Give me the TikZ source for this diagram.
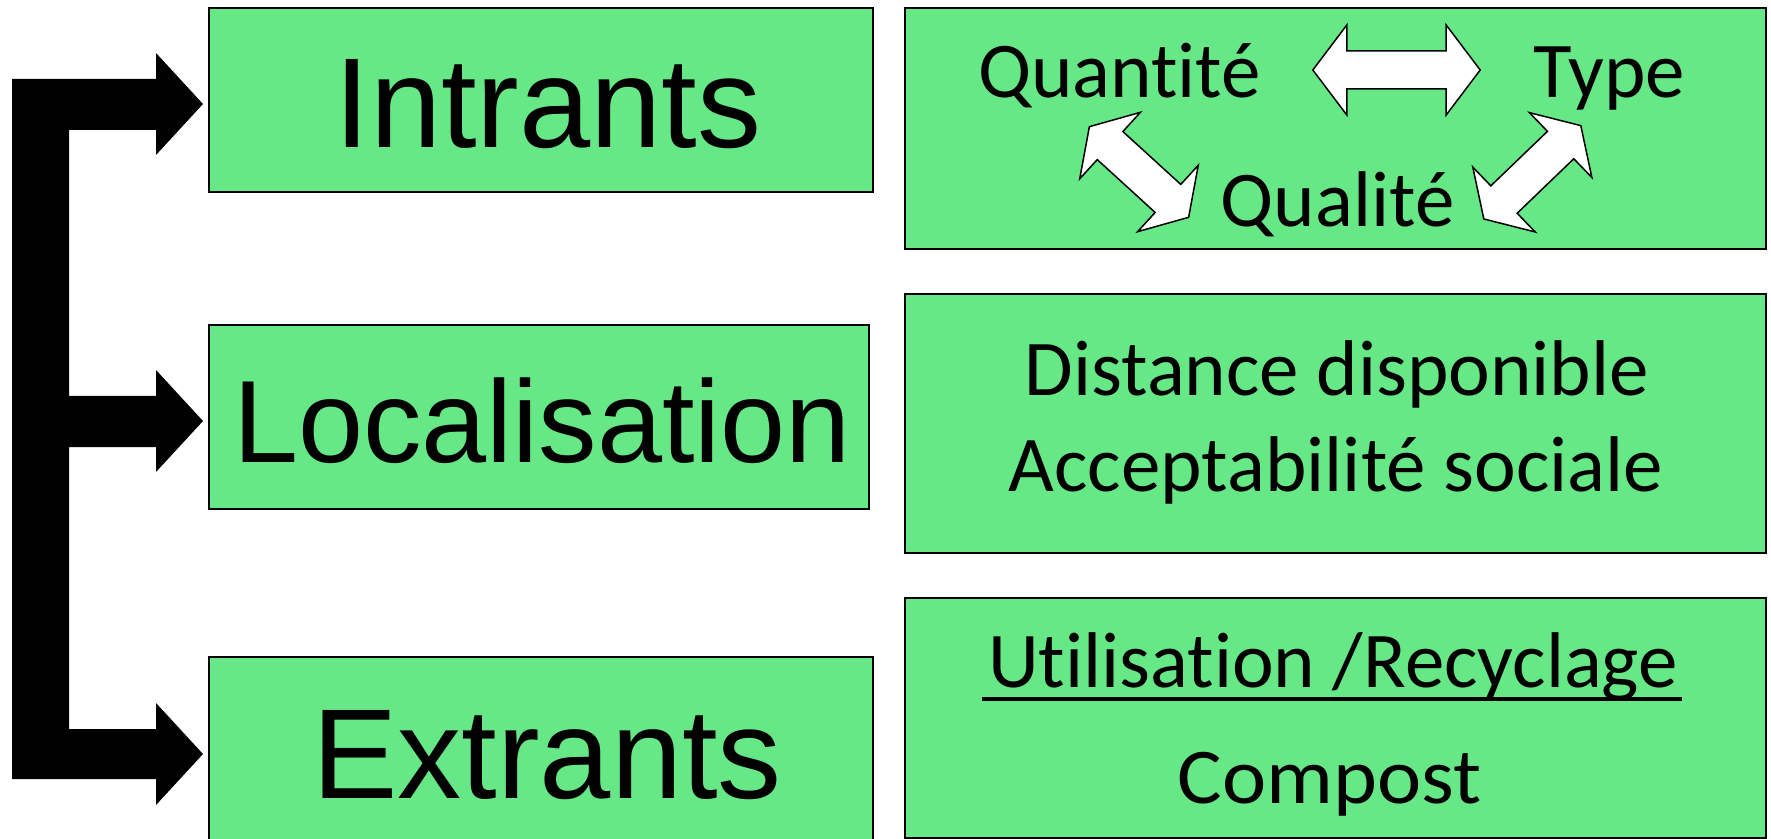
\documentclass[tikz,border=0pt]{standalone}
\usepackage{fontspec}
\newfontfamily\arialf{Liberation Sans}
\newfontfamily\calf[Ligatures=NoCommon]{Carlito}
\definecolor{boxgreen}{RGB}{102,232,134}
\tikzset{
  box/.style={draw=black, line width=1pt, fill=boxgreen, inner sep=0pt},
  lefttxt/.style={font=\arialf\fontsize{64}{72}\selectfont, inner sep=0pt, anchor=base},
  righttxt/.style={font=\calf\fontsize{39.5}{47}\selectfont, inner sep=0pt, anchor=base},
  arr/.style={draw=black, line width=0.75pt, fill=white, line join=miter},
  bracketarrow/.style={fill=black, draw=none},
  pics/dblarrow/.style 2 args={code={
    \draw[arr] (-#1,0) -- (-#1+#2,45) -- (-#1+#2,19) -- (#1-#2,19) -- (#1-#2,45)
      -- (#1,0) -- (#1-#2,-45) -- (#1-#2,-19) -- (-#1+#2,-19) -- (-#1+#2,-45) -- cycle;
  }},
}
\begin{document}
\begin{tikzpicture}[x=0.5pt,y=-0.5pt]
\useasboundingbox (0,0) rectangle (1771,839);
\clip (0,0) rectangle (1771,839);
\fill[white] (0,0) rectangle (1771,839);

% left boxes
\node[box, minimum width=332pt, minimum height=92pt] (intr) at (541,100) {};
\node[box, minimum width=330pt, minimum height=92pt] (loc) at (539,417) {};
\node[box, minimum width=332pt, minimum height=102pt] (extr) at (541,759) {};

% right boxes
\node[box, minimum width=430.5pt, minimum height=120.5pt] (rb1) at (1335.5,128.5) {};
\node[box, minimum width=430.5pt, minimum height=129.5pt] (rb2) at (1335.5,423.5) {};
\node[box, minimum width=430.5pt, minimum height=120pt] (rb3) at (1335.5,717.5) {};

% left texts
\node[lefttxt] (tintr) at (548,148) {Intrants};
\node[lefttxt, font=\arialf\fontsize{58.5}{66}\selectfont] (tloc) at (542,462) {Localisation};
\node[lefttxt] (textr) at (547,798) {Extrants};

% right texts
\node[righttxt] (quant) at (1119.5,98) {Quantité};
\node[righttxt] (type) at (1609.5,98) {Type};
\node[righttxt] (qual) at (1337.5,227) {Qualité};
\node[righttxt] (dist) at (1337,395) {Distance disponible};
\node[righttxt] (acc) at (1336,491) {Acceptabilité sociale};
\node[righttxt] (util) at (1333,687) {Utilisation /Recyclage};
\node[righttxt] (comp) at (1329.5,803) {\scalebox{1.06}[1]{Compost}};
\draw[line width=2pt] ([xshift=-3pt,yshift=-6pt]util.base west) -- ([xshift=2pt,yshift=-6pt]util.base east);

% double arrows
\pic at (1396.5,70) {dblarrow={83.7}{34}};
\pic[rotate=-42.4] at (1139,172) {dblarrow={67.2}{28}};
\pic[rotate=43.9] at (1532.3,172.3) {dblarrow={67.3}{28}};

% bracket arrow
\coordinate (t1) at (203,104);
\coordinate (t2) at (203,421);
\coordinate (t3) at (203,754);
\fill[bracketarrow] (12,79) -- (156,79) -- (156,53) -- (t1) -- (156,155) -- (156,130)
  -- (69,130) -- (69,396) -- (156,396) -- (156,370) -- (t2) -- (156,472) -- (156,447)
  -- (69,447) -- (69,729) -- (156,729) -- (156,703) -- (t3) -- (156,805) -- (156,779)
  -- (12,779) -- cycle;
\end{tikzpicture}
\end{document}
